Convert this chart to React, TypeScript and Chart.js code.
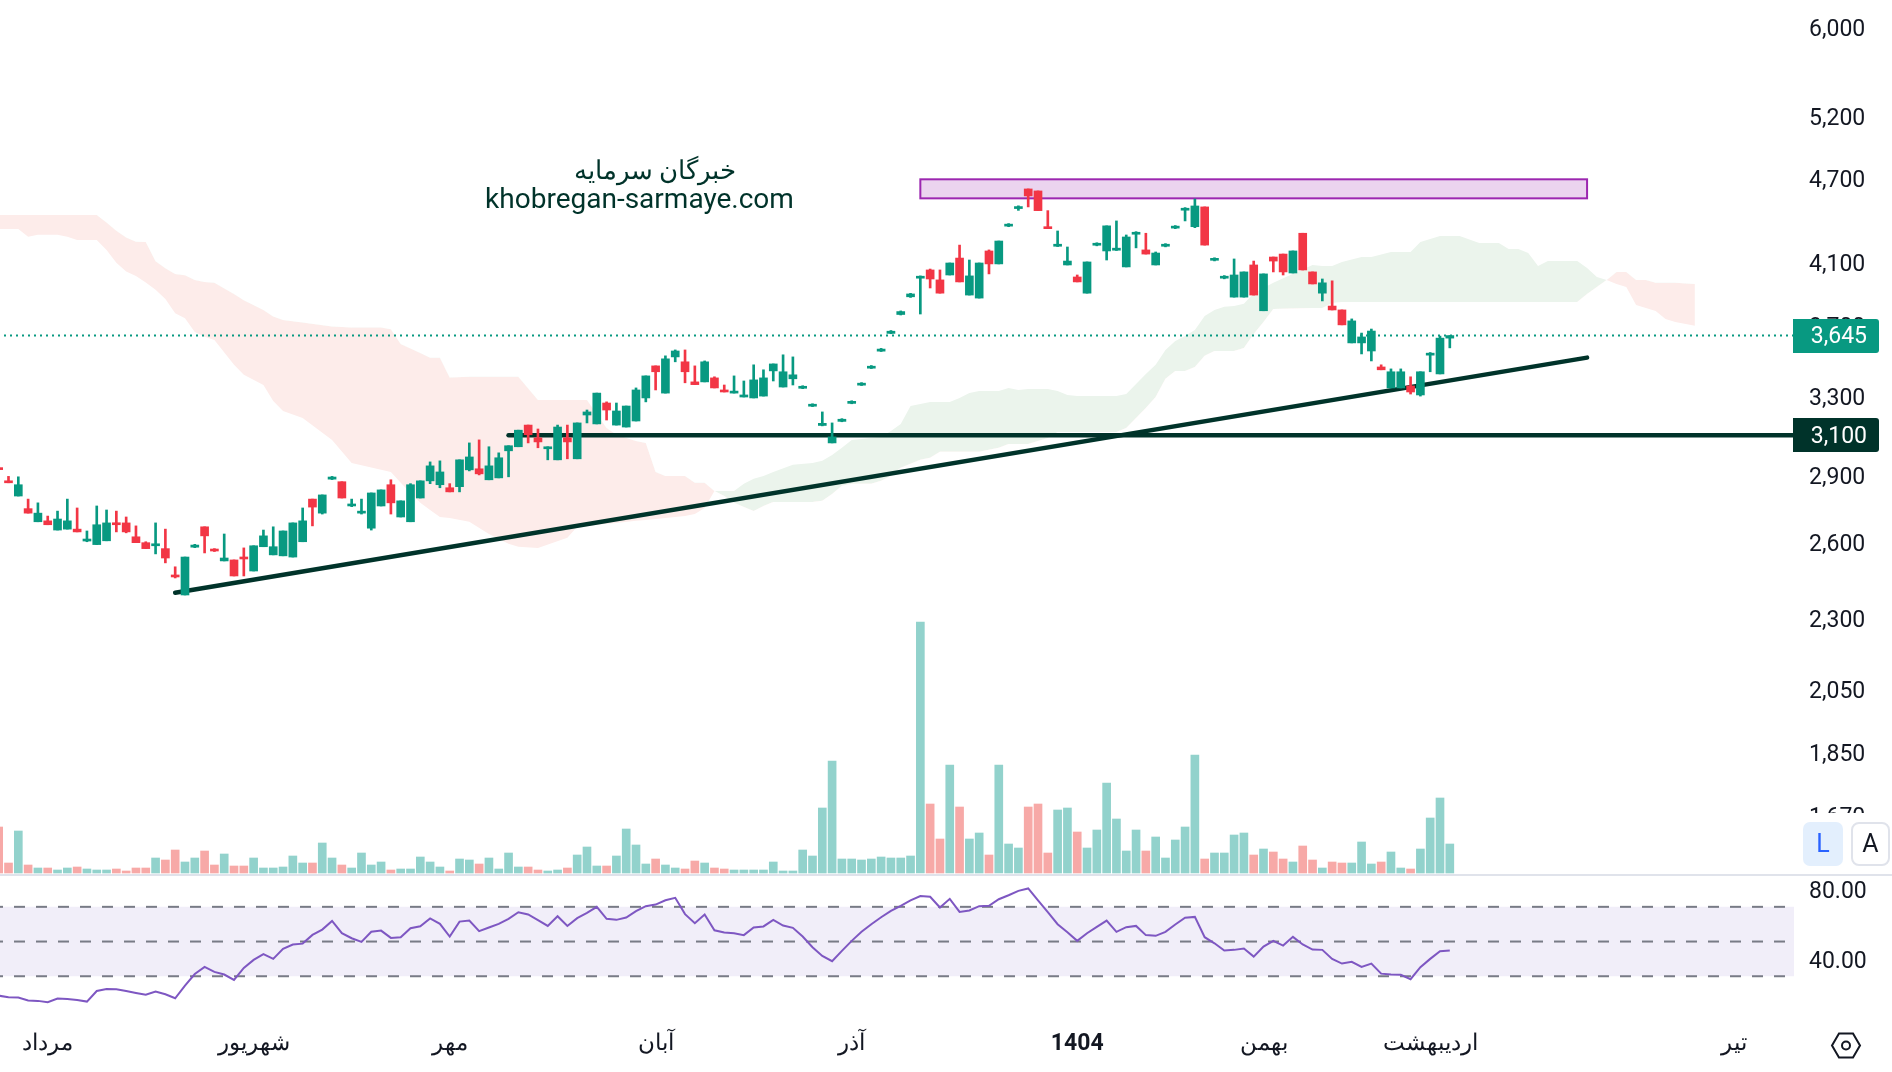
import React, { useEffect, useRef } from "react";
import { Chart, registerables } from "chart.js";

Chart.register(...registerables);

const open = [2941,2879,2809,2752,2694,2698,2658,2662,2662,2611,
2596,2612,2689,2689,2629,2604,2591,2579,2468,2392,
2585,2672,2577,2528,2532,2544,2487,2587,2553,2549,
2544,2608,2795,2732,2887,2875,2764,2732,2666,2764,
2861,2715,2694,2800,2879,2861,2847,2852,2931,2936,
2884,2893,3023,3043,3152,3087,3033,2979,3087,2984,
3204,3158,3267,3152,3142,3173,3294,3470,3320,3521,
3493,3381,3381,3403,3337,3320,3299,3294,3304,3442,
3353,3398,3346,3250,3150,3062,3171,3265,3363,3457,
3554,3658,3772,3882,4001,4055,3990,4022,4134,3893,
3874,4182,4095,4354,4480,4625,4610,4350,4214,4088,
4009,3905,4221,4182,4187,4075,4297,4189,4088,4214,
4340,4468,4350,4492,4119,4001,3880,3880,4088,3795,
4141,4161,4035,4304,4042,3905,3824,3800,3602,3602,
3555,3464,3348,3348,3359,3310,3531,3425,3630];

const high = [2945,2900,2898,2795,2778,2719,2741,2795,2755,2654,
2764,2746,2741,2715,2676,2608,2689,2662,2504,2544,
2597,2672,2579,2641,2532,2582,2591,2658,2672,2654,
2689,2755,2795,2814,2900,2875,2795,2795,2823,2837,
2884,2787,2866,2879,2969,2974,2866,2979,3062,3077,
3043,3013,3048,3126,3152,3132,3043,3152,3152,3163,
3230,3320,3273,3267,3251,3348,3414,3470,3527,3561,
3561,3470,3498,3409,3364,3414,3386,3476,3448,3481,
3533,3521,3360,3263,3220,3163,3185,3279,3377,3472,
3570,3675,3794,3904,4016,4061,4055,4101,4222,4121,
4101,4189,4250,4372,4500,4625,4610,4465,4320,4209,
4022,4108,4238,4356,4391,4292,4315,4304,4175,4232,
4358,4487,4550,4492,4136,4018,4128,4042,4114,4029,
4141,4161,4182,4304,4042,3996,3984,3800,3745,3660,
3684,3476,3453,3453,3409,3437,3546,3642,3645];

const low = [2932,2870,2809,2732,2694,2681,2658,2662,2650,2608,
2596,2612,2650,2646,2604,2579,2557,2520,2459,2392,
2583,2561,2567,2528,2467,2467,2487,2587,2553,2549,
2544,2608,2676,2728,2885,2800,2761,2728,2658,2764,
2728,2715,2694,2800,2866,2847,2828,2828,2926,2907,
2884,2893,2898,3043,3062,3038,2979,2979,2984,2984,
3163,3158,3178,3152,3142,3173,3273,3337,3320,3493,
3376,3366,3381,3348,3326,3320,3299,3294,3304,3386,
3353,3364,3344,3248,3148,3062,3169,3263,3361,3455,
3552,3656,3769,3878,3775,3938,3905,4022,3977,3893,
3874,4029,4095,4350,4467,4492,4465,4336,4212,4088,
3977,3905,4217,4121,4185,4075,4203,4161,4088,4210,
4336,4391,4343,4222,4115,3997,3880,3880,3893,3795,
4042,4022,4035,4055,3964,3856,3800,3709,3602,3538,
3498,3448,3348,3348,3315,3304,3437,3425,3573];

const close = [2932,2870,2861,2732,2732,2681,2706,2698,2650,2619,
2681,2689,2681,2650,2604,2579,2596,2540,2463,2544,
2594,2633,2569,2540,2467,2536,2591,2633,2587,2654,
2689,2698,2759,2814,2897,2800,2768,2739,2823,2837,
2778,2787,2861,2879,2950,2921,2828,2979,2993,2912,
2950,2989,3048,3126,3103,3067,3038,3142,3067,3163,
3220,3320,3230,3225,3251,3337,3414,3437,3510,3555,
3437,3366,3493,3348,3326,3328,3310,3392,3403,3481,
3437,3420,3357,3260,3161,3092,3182,3276,3374,3468,
3566,3671,3790,3900,4014,3996,3905,4101,3977,4016,
4101,4095,4250,4368,4494,4573,4465,4336,4228,4114,
3977,4108,4234,4356,4201,4278,4311,4161,4168,4228,
4354,4482,4499,4222,4132,4014,4022,4042,3893,4029,
4114,4042,4182,4055,3964,3971,3800,3709,3733,3637,
3672,3448,3437,3437,3326,3437,3542,3630,3645];

const volume = [46,10,42,8,5,5,3,5,6,4,
3,3,4,2,5,5,15,13,23,11,
15,22,8,19,7,7,15,5,5,6,
17,10,10,30,15,8,5,20,8,11,
3,4,4,16,11,6,2,14,13,9,
15,4,20,6,6,3,2,3,5,18,
26,7,7,17,44,28,9,14,8,5,
4,12,10,5,4,3,3,3,3,11,
2,2,23,17,65,112,14,14,13,14,
16,15,15,17,251,69,34,108,66,34,
40,18,108,29,25,66,69,20,63,65,
41,25,43,90,54,22,43,22,36,15,
33,46,118,14,20,20,38,40,18,24,
21,14,11,27,13,5,11,10,10,31,
9,11,21,5,4,24,55,75,29];

const rsi = [18.8,17.9,17.7,16.0,15.8,15.0,17.1,16.9,16.3,15.4,
21.5,22.7,22.5,21.5,20.4,19.4,21.2,19.6,17.3,24.6,
31.3,35.4,32.5,31.0,27.9,34.8,39.4,42.7,40.0,45.8,
48.3,48.8,53.8,56.9,61.9,54.8,51.9,49.8,55.6,56.3,
52.1,52.5,57.7,58.8,63.3,60.2,52.9,61.5,62.1,56.0,
58.1,60.2,63.1,66.9,65.6,62.3,59.0,64.6,59.0,63.5,
66.5,70.0,63.1,62.5,63.8,67.5,70.4,71.3,73.8,75.2,
65.8,60.6,65.6,56.5,55.2,54.8,53.7,58.1,58.7,62.5,
59.2,57.9,52.9,46.7,41.7,38.7,44.6,50.4,55.6,60.0,
64.0,67.7,70.6,73.7,76.2,75.8,69.6,74.6,67.1,67.9,
70.4,70.6,74.4,76.7,79.2,80.6,73.7,66.9,60.0,55.4,
50.4,54.8,58.5,62.1,55.6,58.3,59.0,53.7,53.3,55.6,
59.8,63.7,64.2,52.5,49.0,44.8,45.2,46.0,41.3,47.1,
50.4,47.7,52.7,48.3,45.4,45.2,40.0,37.3,38.3,35.4,
37.3,31.5,31.0,30.8,28.3,35.2,40.0,44.4,44.8];

const cloudIdx = [0,2,3,4,6,7,8,10,11,12,13,14,15,16,17,18,19,20,21,22,24,25,27,28,29,31,34,36,39,40,41,43,44,45,46,48,50,52,53,55,58,59,60,62,63,65,66,67,68,70,71,72,73,
74,75,76,77,78,79,81,83,84,85,86,87,89,90,91,92,93,94,95,96,97,98,99,100,102,103,104,105,107,108,109,110,114,115,116,117,118,119,120,121,122,123,124,125,126,127,128,129,130,134,135,136,137,139,140,142,144,145,147,149,151,153,154,155,156,157,158,161,162,163,164,
165,166,167,168,169,170,171,173];

const spanA = [4334,4334,4280,4294,4294,4280,4257,4257,4189,4103,4044,4016,3973,3926,3868,3780,3749,3667,3638,3619,3476,3421,3364,3278,3225,3189,3077,2964,2931,2921,2870,2778,2746,2715,2711,2694,2641,2600,2587,2582,2625,2672,2676,2685,2689,2698,2702,2706,2711,2719,2728,2755,2832,
2832,2832,2866,2889,2902,2921,2955,2964,2974,3003,3038,3077,3087,3092,3122,3158,3251,3262,3273,3273,3273,3294,3320,3331,3331,3348,3337,3342,3342,3331,3310,3304,3304,3315,3370,3425,3476,3561,3613,3643,3678,3763,3800,3819,3825,3838,3905,3938,3971,4088,4081,4081,4108,4141,4141,4175,4175,4243,4285,4285,4236,4236,4195,4195,4168,4081,4114,4114,4068,4009,3990,
3964,3945,3830,3812,3794,3745,3727,3703];

const spanB = [4434,4434,4434,4434,4434,4434,4434,4434,4379,4321,4275,4245,4243,4112,4066,4029,4020,3990,3977,3971,3899,3860,3800,3759,3739,3723,3699,3693,3693,3683,3596,3544,3516,3516,3405,3409,3409,3409,3409,3283,3283,3283,3283,3137,3103,3072,3062,2921,2902,2902,2870,2870,2832,
2809,2778,2759,2741,2764,2782,2782,2782,2787,2818,2856,2866,2866,2879,2902,2941,2960,2979,2989,3018,3018,3018,3018,3018,3038,3057,3057,3057,3087,3117,3117,3117,3117,3137,3189,3241,3299,3398,3442,3442,3464,3527,3555,3555,3555,3572,3655,3727,3806,3812,3812,3843,3850,3850,3850,3850,3850,3850,3850,3850,3850,3850,3850,3850,3850,3850,3850,3850,3899,3945,3990,
4042,4042,3990,3990,3971,3971,3971,3964];

const priceTicks = [6000,5200,4700,4100,3700,3300,2900,2600,2300,2050,1850,1670];
const rsiTicks = [80,40];
const rsiLevels = [70,50,30];
const monthIdx = [5,26,46,67,87,110,129,146,177];
const monthLabels = ["مرداد","شهریور","مهر","آبان","آذر","1404","بهمن","اردیبهشت","تیر"];
const lastPrice = 3645;
const levelPrice = 3100;
const trendIdx = [18,162];
const trendPrice = [2401,3517];
const levelStartIdx = 52;
const zoneIdx = [94,162];
const zonePrice = [4698,4555];
const watermark = ["خبرگان سرمایه","khobregan-sarmaye.com"];

const UP = "#089981";
const DOWN = "#F23645";
const UP_VOL = "#92D2CC";
const DOWN_VOL = "#F7A9A7";
const DARK = "#00332A";
const TEXT = "#131722";
const FAMILY = 'Roboto, "Noto Sans", sans-serif';

const X_MIN = 0.1326;
const X_MAX = 183.105;

const noPad = (s: any) => {
  s.paddingLeft = 0;
  s.paddingRight = 0;
  s.paddingTop = 0;
  s.paddingBottom = 0;
};

const overlay = {
  id: "overlay",
  beforeDatasetsDraw(chart: any) {
    const { ctx, scales } = chart;
    const l = scales.x.getPixelForValue(zoneIdx[0]);
    const r = scales.x.getPixelForValue(zoneIdx[1]);
    const t = scales.yPrice.getPixelForValue(zonePrice[0]);
    const b = scales.yPrice.getPixelForValue(zonePrice[1]);
    ctx.save();
    ctx.fillStyle = "rgba(156,39,176,0.2)";
    ctx.fillRect(l, t, r - l, b - t);
    ctx.strokeStyle = "#9C27B0";
    ctx.lineWidth = 2;
    ctx.strokeRect(l, t, r - l, b - t);
    ctx.restore();
  },
  afterDraw(chart: any) {
    const { ctx, scales } = chart;
    ctx.save();
    // watermark
    ctx.fillStyle = DARK;
    ctx.textAlign = "center";
    ctx.textBaseline = "middle";
    ctx.font = `26px ${FAMILY}`;
    ctx.fillText(watermark[0], 655, 172);
    ctx.font = `28px ${FAMILY}`;
    ctx.fillText(watermark[1], 639.5, 201);
    // pane clip and separator
    ctx.fillStyle = "#FFFFFF";
    ctx.fillRect(1794, 813, 98, 60);
    ctx.fillStyle = "#E0E3EB";
    ctx.fillRect(0, 874, 1892, 2);
    // price tags
    const tag = (v: number, bg: string) => {
      const y = scales.yPrice.getPixelForValue(v);
      ctx.fillStyle = bg;
      ctx.beginPath();
      ctx.roundRect(1793, Math.round(y) - 17, 86, 34, [0, 3, 3, 0]);
      ctx.fill();
      ctx.fillStyle = "#FFFFFF";
      ctx.textAlign = "right";
      ctx.textBaseline = "middle";
      ctx.font = `23px ${FAMILY}`;
      ctx.fillText(v.toLocaleString("en-US"), 1867, y + 2);
    };
    tag(lastPrice, UP);
    tag(levelPrice, DARK);
    // L / A buttons
    ctx.fillStyle = "#E3EFFD";
    ctx.beginPath();
    ctx.roundRect(1803, 822, 40, 44, 7);
    ctx.fill();
    ctx.fillStyle = "#2962FF";
    ctx.textAlign = "center";
    ctx.font = `25px ${FAMILY}`;
    ctx.fillText("L", 1823, 846);
    ctx.strokeStyle = "#E0E3EB";
    ctx.lineWidth = 2;
    ctx.beginPath();
    ctx.roundRect(1852, 823, 37, 42, 7);
    ctx.stroke();
    ctx.fillStyle = TEXT;
    ctx.fillText("A", 1870.5, 846);
    // settings icon
    const cx = 1846, cy = 1045.5;
    ctx.strokeStyle = TEXT;
    ctx.lineWidth = 2;
    ctx.beginPath();
    ctx.moveTo(cx - 14, cy);
    ctx.lineTo(cx - 7, cy - 12);
    ctx.lineTo(cx + 7, cy - 12);
    ctx.lineTo(cx + 14, cy);
    ctx.lineTo(cx + 7, cy + 12);
    ctx.lineTo(cx - 7, cy + 12);
    ctx.closePath();
    ctx.stroke();
    ctx.beginPath();
    ctx.arc(cx, cy, 4, 0, Math.PI * 2);
    ctx.stroke();
    ctx.restore();
  },
};

export default function App() {
  const ref = useRef<HTMLCanvasElement>(null);
  useEffect(() => {
    document.body.style.margin = "0";
    const idx = open.map((_, i) => i);
    const isUp = idx.map((i) => close[i] >= open[i]);
    const flat = (y: number) => [{ x: X_MIN, y }, { x: X_MAX, y }];
    const chart = new Chart(ref.current as HTMLCanvasElement, {
      type: "bar",
      plugins: [overlay as any],
      data: {
        datasets: [
          {
            type: "line", label: "cloudA", yAxisID: "yPrice", order: 20,
            data: cloudIdx.map((x, i) => ({ x, y: spanA[i] })),
            borderWidth: 0, pointRadius: 0, tension: 0,
            fill: { target: "+1", above: "#EBF4EC", below: "#FDECEA" },
          },
          {
            type: "line", label: "cloudB", yAxisID: "yPrice", order: 21,
            data: cloudIdx.map((x, i) => ({ x, y: spanB[i] })),
            borderWidth: 0, pointRadius: 0, tension: 0, fill: false,
          },
          {
            type: "line", label: "band", yAxisID: "yRsi", order: 19,
            data: flat(rsiLevels[0]),
            borderWidth: 0, pointRadius: 0,
            fill: { target: { value: rsiLevels[2] }, above: "#F1EEF9", below: "#F1EEF9" },
          },
          ...rsiLevels.map((lv) => ({
            type: "line", label: "level" + lv, yAxisID: "yRsi", order: 18,
            data: flat(lv),
            borderColor: "#787B86", borderWidth: 2, borderDash: [11, 11], borderDashOffset: 8, pointRadius: 0, fill: false,
          })),
          {
            type: "line", label: "rsi", yAxisID: "yRsi", order: 17,
            data: idx.map((i) => ({ x: i, y: rsi[i] })),
            borderColor: "#7E57C2", borderWidth: 2, pointRadius: 0, tension: 0, fill: false,
          },
          {
            type: "line", label: "last", yAxisID: "yPrice", order: 8,
            data: flat(lastPrice),
            borderColor: UP, borderWidth: 2, borderDash: [2, 4], borderDashOffset: 2, pointRadius: 0, fill: false,
          },
          {
            type: "line", label: "level", yAxisID: "yPrice", order: 7,
            data: [{ x: levelStartIdx, y: levelPrice }, { x: X_MAX, y: levelPrice }],
            borderColor: DARK, borderWidth: 4.5, borderCapStyle: "round", pointRadius: 0, fill: false,
          },
          {
            type: "line", label: "trend", yAxisID: "yPrice", order: 6,
            data: trendIdx.map((x, i) => ({ x, y: trendPrice[i] })),
            borderColor: DARK, borderWidth: 4.5, borderCapStyle: "round", pointRadius: 0, fill: false,
          },
          {
            type: "bar", label: "volume", yAxisID: "yVol", order: 5, grouped: false,
            barThickness: 8,
            data: idx.map((i) => ({ x: i, y: volume[i] })),
            backgroundColor: idx.map((i) => (isUp[i] ? UP_VOL : DOWN_VOL)),
          },
          {
            type: "bar", label: "wick", yAxisID: "yPrice", order: 2, grouped: false,
            barThickness: 2,
            data: idx.map((i) => ({ x: i, y: [low[i], high[i]] })),
            backgroundColor: idx.map((i) => (isUp[i] ? UP : DOWN)),
          },
          {
            type: "bar", label: "body", yAxisID: "yPrice", order: 1, grouped: false,
            barThickness: 8, minBarLength: 2,
            data: idx.map((i) => ({ x: i, y: [Math.min(open[i], close[i]), Math.max(open[i], close[i])] })),
            backgroundColor: idx.map((i) => (isUp[i] ? UP : DOWN)),
          },
        ] as any,
      },
      options: {
        responsive: false,
        animation: false,
        layout: { padding: 0 },
        events: [],
        plugins: { legend: { display: false }, tooltip: { enabled: false } },
        scales: {
          x: {
            type: "linear",
            min: X_MIN,
            max: X_MAX,
            offset: false,
            position: "bottom",
            grid: { display: false, drawTicks: false, offset: false },
            border: { display: false },
            afterBuildTicks: (s: any) => { s.ticks = monthIdx.map((value) => ({ value })); },
            afterFit: (s: any) => { s.height = 52; noPad(s); },
            ticks: {
              autoSkip: false, maxRotation: 0, minRotation: 0, padding: 10, color: TEXT,
              callback: (v: any) => monthLabels[monthIdx.indexOf(Number(v))] ?? "",
              font: (c: any) => ({ family: FAMILY, size: 23, weight: c.tick && c.tick.value === 110 ? "bold" : "normal" }),
            },
          },
          yPrice: {
            type: "logarithmic",
            position: "right",
            stack: "right",
            stackWeight: 875,
            weight: 0,
            min: 1518,
            max: 6286,
            bounds: "data",
            grid: { display: false, drawTicks: false },
            border: { display: false },
            afterBuildTicks: (s: any) => { s.ticks = priceTicks.map((value) => ({ value })); },
            afterFit: (s: any) => { s.width = 98; noPad(s); },
            ticks: {
              autoSkip: false, crossAlign: "near", padding: 15, labelOffset: 2, color: TEXT,
              major: { enabled: false },
              font: { family: FAMILY, size: 23 },
              callback: (v: any) => Number(v).toLocaleString("en-US"),
            },
          },
          yRsi: {
            type: "linear",
            position: "right",
            stack: "right",
            stackWeight: 145,
            weight: 1,
            min: 4.78,
            max: 88.35,
            grid: { display: false, drawTicks: false },
            border: { display: false },
            afterBuildTicks: (s: any) => { s.ticks = rsiTicks.map((value) => ({ value })); },
            afterFit: (s: any) => { s.width = 98; noPad(s); },
            ticks: {
              autoSkip: false, crossAlign: "near", padding: 15, labelOffset: 3, color: TEXT,
              font: { family: FAMILY, size: 23 },
              callback: (v: any) => Number(v).toFixed(2),
            },
          },
          yVol: {
            type: "linear",
            display: false,
            position: "right",
            min: -147,
            max: 873,
          },
        },
      } as any,
    });
    return () => chart.destroy();
  }, []);
  return (
    <div style={{ position: "fixed", left: 0, top: 0, width: 1892, height: 1072, overflow: "hidden", background: "#fff" }}>
      <canvas ref={ref} width={1892} height={1072} style={{ display: "block" }} />
    </div>
  );
}
